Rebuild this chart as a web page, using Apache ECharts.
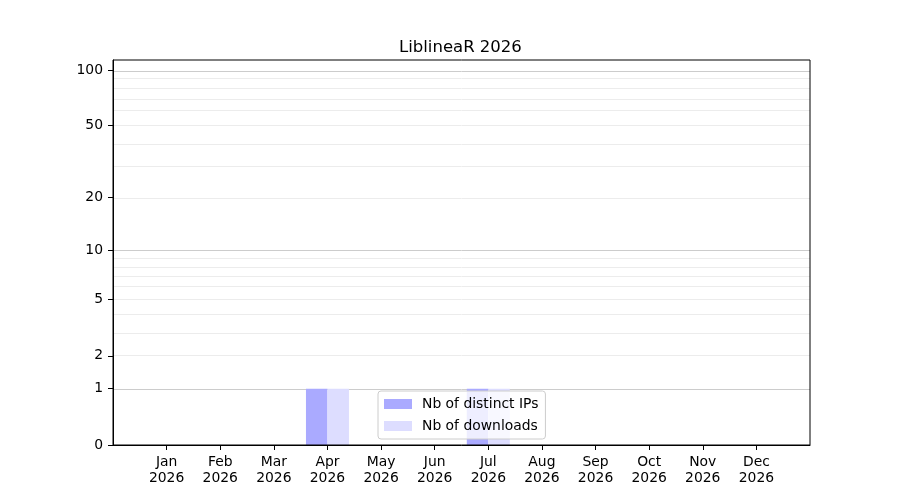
<!DOCTYPE html>
<html>
<head>
<meta charset="utf-8">
<script src="https://cdn.jsdelivr.net/npm/echarts@6/dist/echarts.min.js"></script>
<style>
html,body{margin:0;padding:0;background:#fff;}
#main{width:900px;height:500px;}
</style>
</head>
<body>
<div id="main"></div>
<script>
// data
var months=["Jan","Feb","Mar","Apr","May","Jun","Jul","Aug","Sep","Oct","Nov","Dec"];
var year="2026";
var distinctIPs=[0,0,0,1,0,0,1,0,0,0,0,0];
var downloads=[0,0,0,1,0,0,1,0,0,0,0,0];
var yTicks=[0,1,2,5,10,20,50,100];
var majorGrid=[1,10,100];
var minorGrid=[2,3,4,5,6,7,8,9,20,30,40,50,60,70,80,90];
var yTop=113.5;

// log(1+x) scale
function tf(v){return Math.log10(1+v);}
function toPoints(arr){
	var list=[];
	for(var i=0;i<arr.length;i++){ list.push([i,tf(arr[i])]); }
	return list;
}
function gridLines(vals,color){
	return vals.map(function(v){
		return {yAxis:tf(v),lineStyle:{color:color,width:1,type:"solid"}};
	});
}
var monthIdx=months.map(function(m,i){return i;});
var font="DejaVu Sans";

var myChart=echarts.init(document.getElementById("main"));
var option={
	animation:false,
	title:{
		text:"LiblineaR "+year,
		left:394,
		top:34,
		textStyle:{fontFamily:font,fontSize:16.5,fontWeight:"normal",color:"#000"}
	},
	legend:{
		orient:"vertical",
		left:378,
		top:391,
		itemWidth:28,
		itemHeight:10,
		itemGap:8,
		padding:[6,7,6,6],
		icon:"rect",
		backgroundColor:"rgba(255,255,255,0.8)",
		borderColor:"#cccccc",
		borderWidth:1,
		borderRadius:3,
		z:20,
		textStyle:{fontFamily:font,fontSize:13.9,color:"#000",padding:[0,0,0,5]},
		data:["Nb of distinct IPs","Nb of downloads"]
	},
	grid:{
		left:113,right:90,top:60,bottom:55,z:10,
		show:true,borderColor:"#000",borderWidth:1,containLabel:false
	},
	xAxis:{
		type:"value",
		min:-1,max:12,interval:1,z:10,
		axisLine:{show:true,onZero:false,lineStyle:{color:"#000"}},
		splitLine:{show:false},
		axisTick:{show:true,length:5,customValues:monthIdx,lineStyle:{color:"#000"}},
		axisLabel:{
			customValues:monthIdx,
			fontFamily:font,fontSize:13.9,color:"#000",lineHeight:16,margin:9,
			formatter:function(v){return months[v]+"\n"+year;}
		}
	},
	yAxis:{
		type:"value",
		min:0,max:tf(yTop),z:10,
		axisLine:{show:true,onZero:false,lineStyle:{color:"#000"}},
		splitLine:{show:false},
		axisTick:{show:true,length:5,customValues:yTicks.map(tf),lineStyle:{color:"#000"}},
		axisLabel:{
			customValues:yTicks.map(tf),
			fontFamily:font,fontSize:13.9,color:"#000",margin:10,
			formatter:function(v){return String(Math.round(Math.pow(10,v)-1));}
		}
	},
	series:[
		{
			name:"Nb of distinct IPs",
			type:"bar",
			barWidth:21.5,
			barGap:"0%",
			itemStyle:{color:"#aaaaff"},
			data:toPoints(distinctIPs),
			z:3,
			markLine:{
				silent:true,symbol:"none",label:{show:false},animation:false,z:1,
				data:gridLines(minorGrid,"#ececec").concat(gridLines(majorGrid,"#cccccc"))
			}
		},
		{
			name:"Nb of downloads",
			type:"bar",
			barWidth:21.5,
			barGap:"0%",
			itemStyle:{color:"#ddddff"},
			data:toPoints(downloads),
			z:3
		}
	]
};
myChart.setOption(option);
</script>
</body>
</html>
